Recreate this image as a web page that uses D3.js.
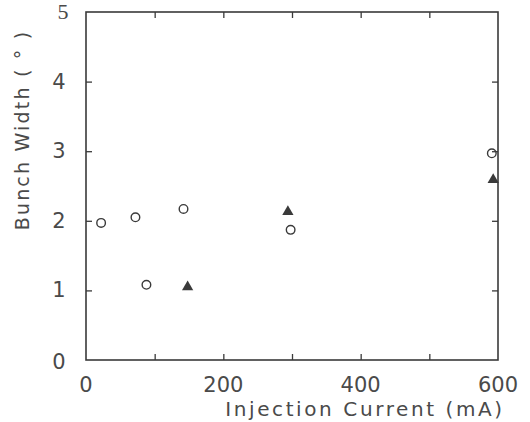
<!DOCTYPE html>
<html><head><meta charset="utf-8">
<script src="https://cdn.jsdelivr.net/npm/d3@7"></script>
<style>body{margin:0;background:#fff;} svg{display:block;}</style>
</head><body>
<script>
const circleX = [22, 72, 88, 142, 298, 591];
const circleY = [1.97, 2.05, 1.08, 2.17, 1.87, 2.97];
const triX = [148, 294, 593];
const triY = [1.05, 2.13, 2.59];
const xTickLabels = [0, 200, 400, 600];
const yTickLabels = [0, 1, 2, 3, 4, 5];
const xMinorTicks = [100, 200, 300, 400, 500];
const yMinorTicks = [1, 2, 3, 4];

const W = 530, H = 422;
const L = 86, R = 498, T = 12, B = 360;
const ink = "#3a3a3a";
const svg = d3.select("body").append("svg").attr("width", W).attr("height", H);
const x = d3.scaleLinear().domain([0, 600]).range([L, R]);
const y = d3.scaleLinear().domain([0, 5]).range([B, T]);

svg.append("rect").attr("x", L).attr("y", T).attr("width", R - L).attr("height", B - T)
  .attr("fill", "none").attr("stroke", ink).attr("stroke-width", 1.6);

const tl = 6;
const styleTicks = g => { g.select(".domain").remove(); g.selectAll("line").attr("stroke", ink).attr("stroke-width", 1.3); };
svg.append("g").attr("transform", `translate(0,${B})`)
  .call(d3.axisBottom(x).tickValues(xMinorTicks).tickSize(-tl).tickFormat("")).call(styleTicks);
svg.append("g").attr("transform", `translate(0,${T})`)
  .call(d3.axisTop(x).tickValues(xMinorTicks).tickSize(-tl).tickFormat("")).call(styleTicks);
svg.append("g").attr("transform", `translate(${L},0)`)
  .call(d3.axisLeft(y).tickValues(yMinorTicks).tickSize(-tl).tickFormat("")).call(styleTicks);
svg.append("g").attr("transform", `translate(${R},0)`)
  .call(d3.axisRight(y).tickValues(yMinorTicks).tickSize(-tl).tickFormat("")).call(styleTicks);

const font = "'DejaVu Sans', sans-serif";
const txt = "#4a4a4a";
svg.append("g").selectAll("text").data(xTickLabels).join("text")
  .attr("x", d => x(d)).attr("y", 392).attr("text-anchor", "middle")
  .attr("font-family", font).attr("font-size", 21).attr("fill", txt)
  .text(d => d);
svg.append("g").selectAll("text").data(yTickLabels).join("text")
  .attr("x", d => d === 5 ? 63 : 59).attr("y", d => y(d) + 7 + (d === 0 ? 2 : 0)).attr("text-anchor", "middle")
  .attr("font-family", d => d === 5 ? "'Liberation Serif', serif" : font)
  .attr("font-size", d => d === 5 ? 22 : 21).attr("fill", txt)
  .text(d => d);

svg.append("text").attr("x", 365).attr("y", 416).attr("text-anchor", "middle")
  .attr("font-family", font).attr("font-size", 20).attr("letter-spacing", 2.6).attr("fill", txt)
  .text("Injection Current (mA)");
svg.append("text").attr("transform", "translate(29,130) rotate(-90)").attr("text-anchor", "middle")
  .attr("font-family", font).attr("font-size", 19).attr("letter-spacing", 2.2).attr("fill", txt)
  .text("Bunch Width ( ° )");

svg.append("g").selectAll("circle").data(circleX.map((v, i) => [v, circleY[i]])).join("circle")
  .attr("cx", d => x(d[0])).attr("cy", d => y(d[1])).attr("r", 4.3)
  .attr("fill", "none").attr("stroke", ink).attr("stroke-width", 1.4);
const tri = d3.symbol().type(d3.symbolTriangle).size(55);
svg.append("g").selectAll("path").data(triX.map((v, i) => [v, triY[i]])).join("path")
  .attr("d", tri).attr("transform", d => `translate(${x(d[0])},${y(d[1])})`)
  .attr("fill", ink);
</script>
</body></html>
